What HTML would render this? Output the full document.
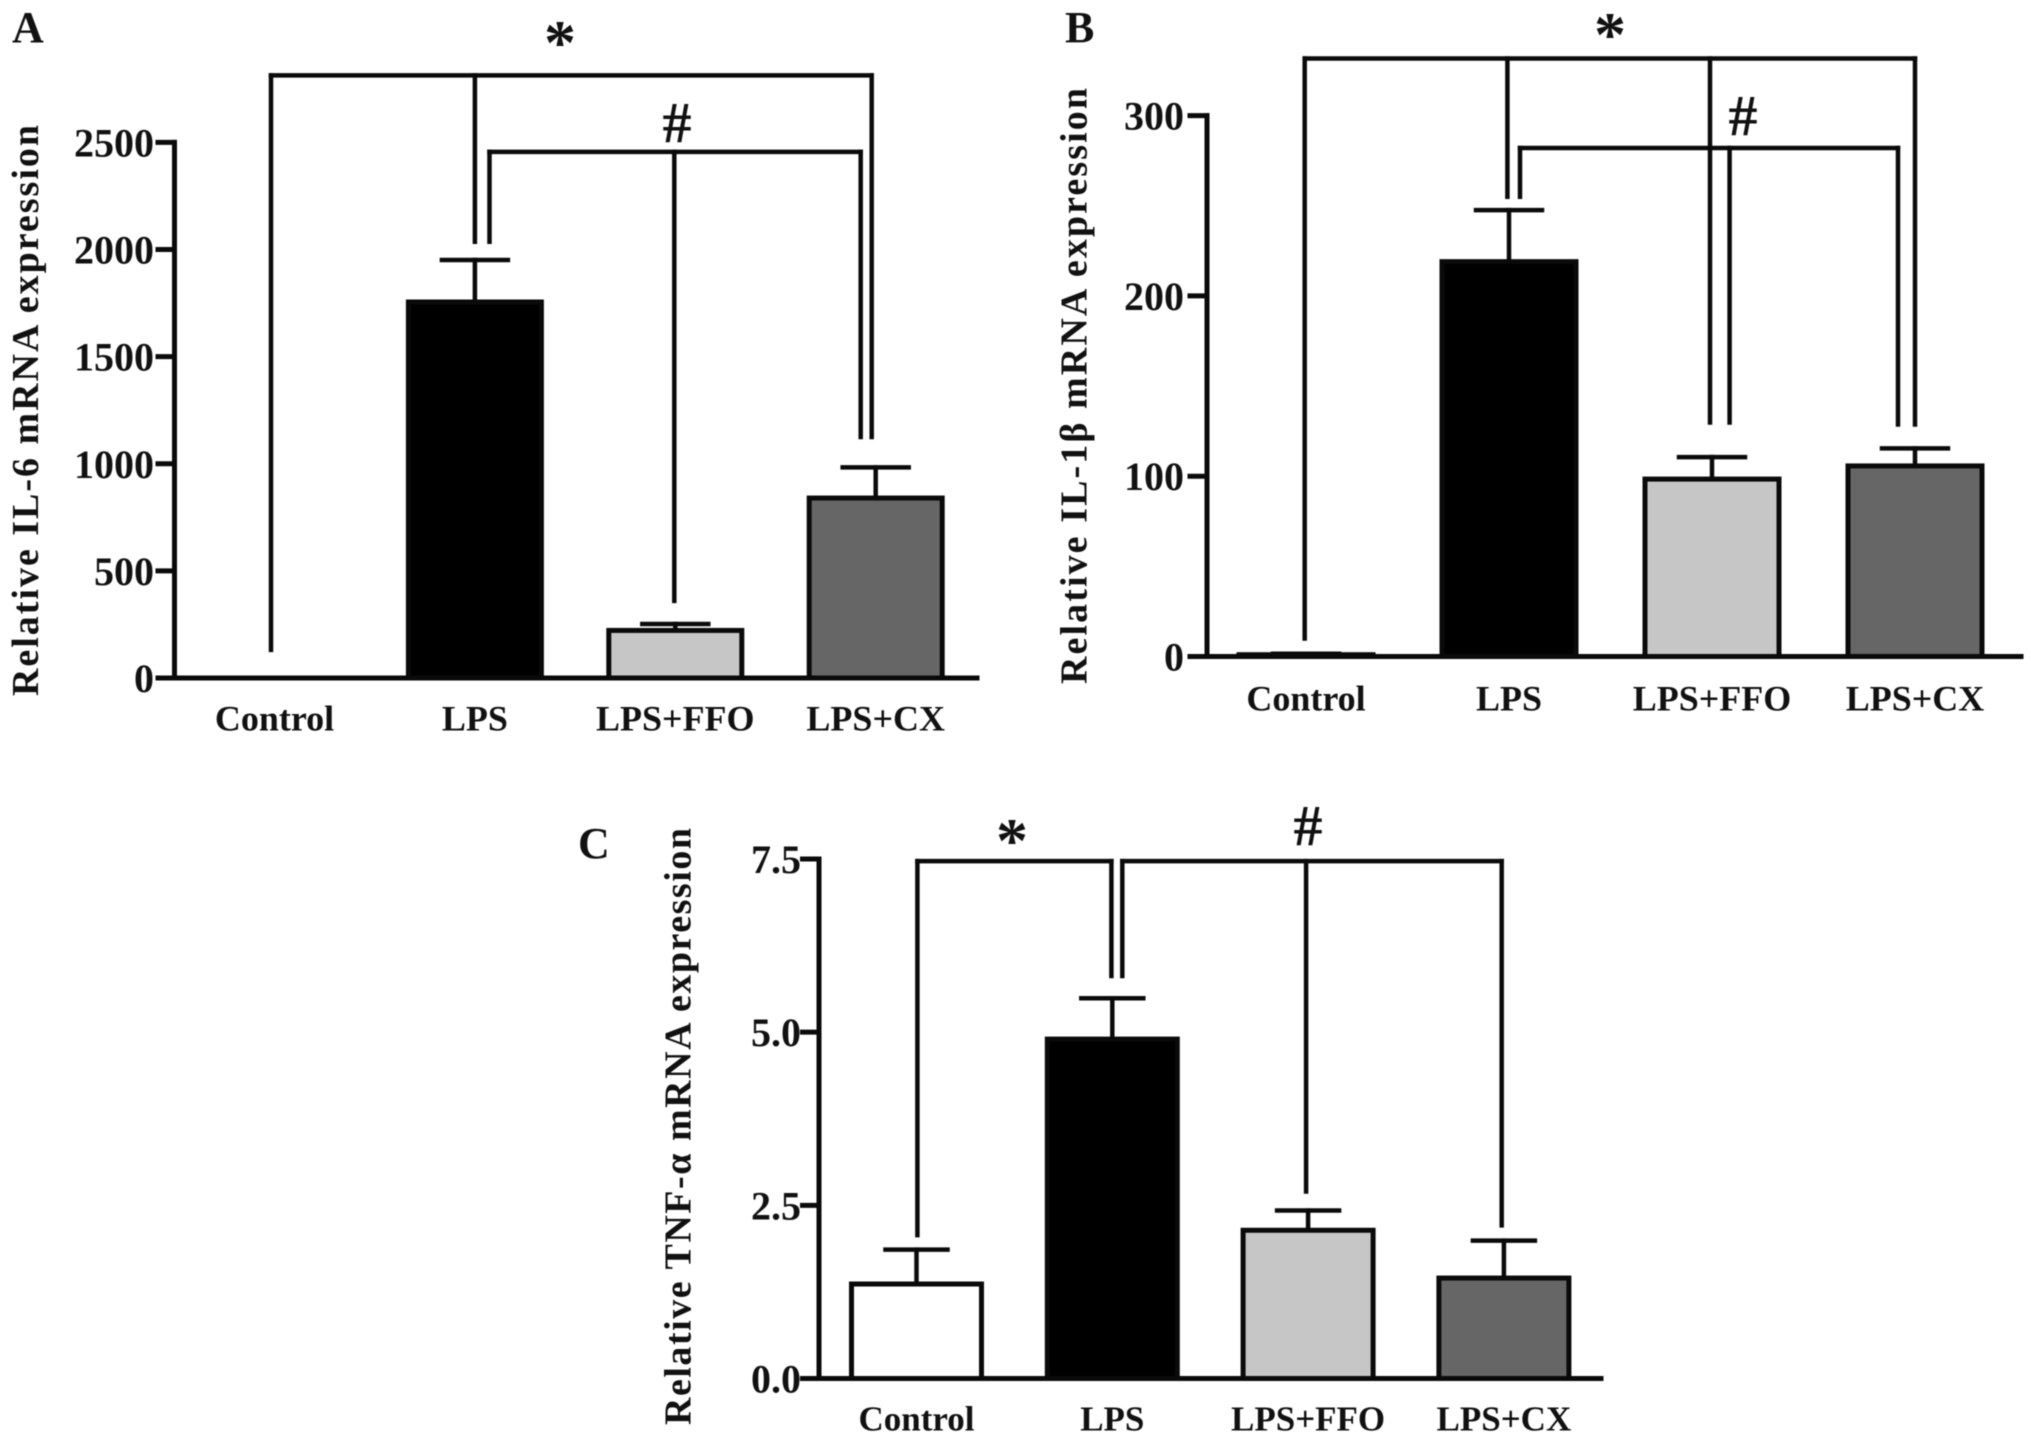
<!DOCTYPE html>
<html lang="en">
<head>
<meta charset="utf-8">
<title>Relative cytokine mRNA expression</title>
<style>
  html, body { margin: 0; padding: 0; background: #fff; }
  #figure { display: block; width: 2031px; height: 1444px; filter: blur(0.6px); }
  text { font-family: "Liberation Serif", serif; font-weight: bold; fill: #111; }
</style>
</head>
<body>
<svg id="figure" xmlns="http://www.w3.org/2000/svg" width="2031" height="1444" viewBox="0 0 2031 1444"></svg>
<script>
// ---- Data ----
const categories = ['Control', 'LPS', 'LPS+FFO', 'LPS+CX'];

const il6Values = [0, 1755, 222, 840];
const il6Upper = [0, 1951, 252, 983];
const il6Ticks = [0, 500, 1000, 1500, 2000, 2500];
const il6TickLabels = ['0', '500', '1000', '1500', '2000', '2500'];
const il6StarLevel = 2813;
const il6StarEnds = [131, 2036, null, 1125];
const il6HashLevel = 2456;
const il6HashEnds = [null, 2036, 360, 1125];

const il1Values = [1, 219, 98.4, 105.7];
const il1Upper = [1.5, 247.6, 110.6, 115.4];
const il1Ticks = [0, 100, 200, 300];
const il1TickLabels = ['0', '100', '200', '300'];
const il1StarLevel = 331.7;
const il1StarEnds = [10, 255, 129.8, 128.7];
const il1HashLevel = 282;
const il1HashEnds = [null, 255, 129.8, 128.7];

const tnfValues = [1.364, 4.90, 2.14, 1.45];
const tnfUpper = [1.86, 5.49, 2.425, 1.99];
const tnfTicks = [0, 2.5, 5, 7.5];
const tnfTickLabels = ['0.0', '2.5', '5.0', '7.5'];
const tnfStarLevel = 7.47;
const tnfStarEnds = [2.07, 5.81, null, null];
const tnfHashLevel = 7.47;
const tnfHashEnds = [null, 5.81, 2.70, 2.21];

const barFills = ['#ffffff', '#000000', '#c6c6c6', '#666666'];

// ---- Layout (panel geometry, independent of the data) ----
const panels = [
  { id: 'a', letter: 'A', letterX: 12, letterY: 42,
    title: 'Relative IL-6 mRNA expression', titleX: 38, titleY: 696, titleLen: 571,
    values: il6Values, upper: il6Upper, ticks: il6Ticks, tickLabels: il6TickLabels,
    max: 2500, base: 678, top: 142.4, axisX: 174.5, axisEnd: 977, tickStart: 158, tickLabelX: 154,
    first: 274.5, step: 200.4, barW: 133, capHalf: 33, labelY: 730.5, labelSize: 36,
    starLevel: il6StarLevel, starEnds: il6StarEnds, starDx: [-3.5, 0, 0, -4],
    hashLevel: il6HashLevel, hashEnds: il6HashEnds, hashDx: [0, 14.6, -1, -15],
    starX: 560, starY: 64, hashX: 677, hashY: 142 },
  { id: 'b', letter: 'B', letterX: 1065, letterY: 42,
    title: 'Relative IL-1\u03B2 mRNA expression', titleX: 1086.5, titleY: 684, titleLen: 596,
    values: il1Values, upper: il1Upper, ticks: il1Ticks, tickLabels: il1TickLabels,
    max: 300, base: 656.5, top: 115.6, axisX: 1207, axisEnd: 2021, tickStart: 1190, tickLabelX: 1184,
    first: 1306, step: 203, barW: 134, capHalf: 33, labelY: 710.5, labelSize: 36,
    starLevel: il1StarLevel, starEnds: il1StarEnds, starDx: [-1.3, -1.6, -2, 0],
    hashLevel: il1HashLevel, hashEnds: il1HashEnds, hashDx: [0, 11, 17.6, -17],
    starX: 1610, starY: 56, hashX: 1743, hashY: 135 },
  { id: 'c', letter: 'C', letterX: 578, letterY: 858,
    title: 'Relative TNF-\u03B1 mRNA expression', titleX: 690.5, titleY: 1425, titleLen: 597,
    values: tnfValues, upper: tnfUpper, ticks: tnfTicks, tickLabels: tnfTickLabels,
    max: 7.5, base: 1378.5, top: 859, axisX: 819, axisEnd: 1601, tickStart: 802.5, tickLabelX: 801,
    first: 916.5, step: 195.8, barW: 130, capHalf: 31, labelY: 1430.5, labelSize: 35,
    starLevel: tnfStarLevel, starEnds: tnfStarEnds, starDx: [0.9, -0.9, 0, 0],
    hashLevel: tnfHashLevel, hashEnds: tnfHashEnds, hashDx: [0, 10, -2, -2.2],
    starX: 1012, starY: 862, hashX: 1308, hashY: 845 }
];

const SVG_NS = 'http://www.w3.org/2000/svg';
const root = document.getElementById('figure');

function line(parent, name, x1, y1, x2, y2, width) {
  const el = document.createElementNS(SVG_NS, 'line');
  
  
  el.setAttribute('x1', x1);
  el.setAttribute('y1', y1);
  el.setAttribute('x2', x2);
  el.setAttribute('y2', y2);
  el.setAttribute('stroke', '#0a0a0a');
  el.setAttribute('stroke-width', width);
  el.setAttribute('stroke-linecap', 'square');
  parent.appendChild(el);
  return el;
}

function label(parent, name, str, x, y, size, anchor) {
  const el = document.createElementNS(SVG_NS, 'text');
  
  
  el.setAttribute('x', x);
  el.setAttribute('y', y);
  el.setAttribute('font-size', size);
  el.setAttribute('text-anchor', anchor);
  el.textContent = str;
  parent.appendChild(el);
  return el;
}

function drawBracket(parent, prefix, p, level, ends, offsets, xAt, yAt) {
  const used = [];
  ends.forEach(function (end, i) {
    if (end !== null) {
      used.push(xAt(i) + offsets[i]);
      line(parent, prefix + '-stem-' + i, xAt(i) + offsets[i], yAt(level), xAt(i) + offsets[i], yAt(end), 4.5);
    }
  });
  line(parent, prefix + '-bar', Math.min.apply(null, used), yAt(level), Math.max.apply(null, used), yAt(level), 4.5);
}

panels.forEach(function (p) {
  const g = document.createElementNS(SVG_NS, 'g');
  
  
  root.appendChild(g);

  const yAt = function (v) { return p.base - (v / p.max) * (p.base - p.top); };
  const xAt = function (i) { return p.first + i * p.step; };

  label(g, 'panel-' + p.id + '-letter', p.letter, p.letterX, p.letterY, 44, 'start');

  // Error bars first, so bars sit over their lower ends
  p.upper.forEach(function (u, i) {
    line(g, 'error-stem-' + p.id + '-' + i, xAt(i), yAt(p.values[i]), xAt(i), yAt(u), 4.5);
    line(g, 'error-cap-' + p.id + '-' + i, xAt(i) - p.capHalf, yAt(u), xAt(i) + p.capHalf, yAt(u), 4.5);
  });

  // Bars
  p.values.forEach(function (v, i) {
    const bar = document.createElementNS(SVG_NS, 'rect');
    
    
    bar.setAttribute('x', xAt(i) - p.barW / 2);
    bar.setAttribute('y', yAt(v));
    bar.setAttribute('width', p.barW);
    bar.setAttribute('height', Math.max(0, yAt(0) - yAt(v)));
    bar.setAttribute('fill', barFills[i]);
    bar.setAttribute('stroke', v === 0 ? 'none' : '#0a0a0a');
    bar.setAttribute('stroke-width', 5);
    g.appendChild(bar);
  });

  // Axes
  line(g, 'y-axis-' + p.id, p.axisX, yAt(p.max), p.axisX, yAt(0), 5);
  line(g, 'x-axis-' + p.id, p.tickStart, yAt(0), p.axisEnd, yAt(0), 5);
  p.ticks.forEach(function (t, i) {
    line(g, 'y-tick-' + p.id + '-' + i, p.tickStart, yAt(t), p.axisX, yAt(t), 5);
    label(g, 'y-tick-label-' + p.id + '-' + i, p.tickLabels[i], p.tickLabelX, yAt(t) + 14, 40, 'end');
  });

  // Category labels
  categories.forEach(function (c, i) {
    label(g, 'x-label-' + p.id + '-' + i, c, xAt(i), p.labelY, p.labelSize, 'middle');
  });

  // Axis title
  const title = label(g, 'y-axis-title-' + p.id, p.title, 0, 0, 38, 'start');
  title.setAttribute('transform', 'translate(' + p.titleX + ',' + p.titleY + ') rotate(-90)');
  title.setAttribute('textLength', p.titleLen);
  title.setAttribute('lengthAdjust', 'spacing');

  // Significance brackets
  drawBracket(g, 'star-bracket-' + p.id, p, p.starLevel, p.starEnds, p.starDx, xAt, yAt);
  drawBracket(g, 'hash-bracket-' + p.id, p, p.hashLevel, p.hashEnds, p.hashDx, xAt, yAt);
  label(g, 'star-marker-' + p.id, '*', p.starX, p.starY, 64, 'middle');
  label(g, 'hash-marker-' + p.id, '#', p.hashX, p.hashY, 58, 'middle');
});
</script>
</body>
</html>
